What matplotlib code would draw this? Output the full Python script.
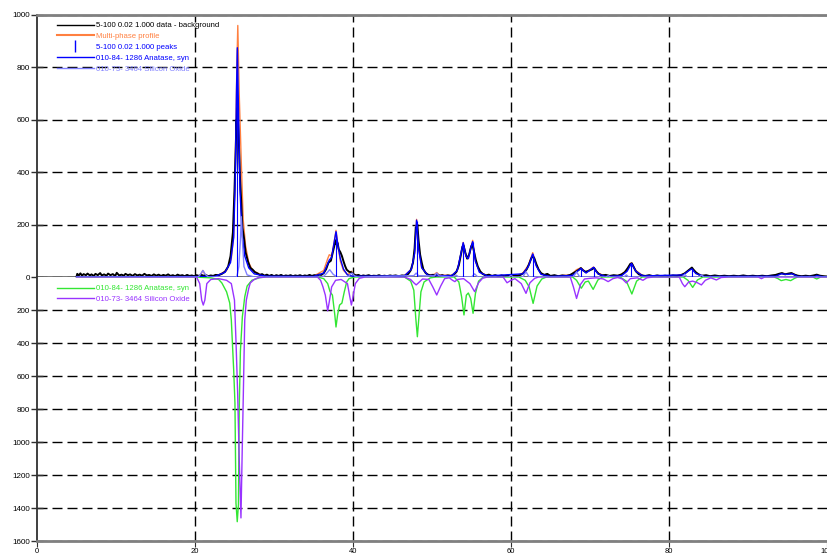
import matplotlib
matplotlib.use('Agg')
import matplotlib.pyplot as plt
from matplotlib.lines import Line2D

plt.rcParams['font.family'] = ['Liberation Sans', 'DejaVu Sans']
plt.rcParams['lines.scale_dashes'] = False

# measured data minus background (black, noisy)
data_x = [5.0,5.1,5.3,5.5,5.7,5.9,6.2,6.4,6.7,6.9,7.2,7.4,7.7,8.0,8.2,8.5,8.8,9.0,9.3,9.6,9.9,10.1,10.4,10.7,11.0,11.2,11.5,11.8,12.1,12.4,12.7,13.0,13.3,13.6,13.9,14.2,14.5,14.8,15.1,15.4,15.7,16.0,16.3,16.6,16.9,17.2,17.5,17.8,18.1,18.4,18.7,19.0,19.3,19.6,19.9,20.2,20.5,20.8,21.1,21.4,21.7,22.0,22.3,22.6,23.0,23.4,23.8,24.2,24.5,24.8,25.0,25.15,25.25,25.3,25.35,25.45,25.55,25.7,25.85,26.0,26.2,26.4,26.7,27.0,27.3,27.6,27.9,28.2,28.5,
          28.8,29.1,29.4,29.7,30.0,30.3,30.6,30.9,31.2,31.5,31.8,32.1,32.4,32.7,33.0,33.3,33.6,33.9,34.2,34.5,34.8,35.1,35.4,35.7,36.0,36.3,36.6,36.9,37.2,37.45,37.65,37.8,37.9,38.05,38.2,38.4,38.6,38.8,39.0,39.2,39.5,39.8,40.1,40.4,40.7,41.0,41.3,41.6,42.0,42.3,42.6,43.0,43.3,43.6,44.0,44.3,44.7,45.0,45.4,45.8,46.2,46.6,47.0,47.3,47.6,47.8,47.95,48.05,48.15,48.3,48.5,48.7,48.9,49.2,49.5,49.8,50.1,50.4,50.7,51.0,51.3,51.6,52.0,52.4,52.8,53.1,53.4,53.65,53.85,54.0,54.2,54.45,54.7,54.95,55.1,55.3,55.55,55.8,56.1,56.4,56.8,57.2,57.6,58.0,58.4,58.8,59.2,59.6,60.0,60.4,60.8,61.2,61.6,62.0,62.3,62.55,62.75,62.95,63.2,63.5,63.8,64.2,64.6,65.0,65.5,66.0,66.5,67.0,67.5,67.9,68.3,68.6,68.85,69.1,69.4,69.7,70.0,70.3,70.5,70.8,71.1,71.5,72.0,72.5,73.0,73.5,74.0,74.4,74.8,75.1,75.3,75.5,75.8,76.2,76.6,77.0,77.5,78.0,78.5,79.0,79.5,80.0,80.5,81.0,81.5,82.0,82.4,82.7,82.9,83.1,83.4,83.8,84.2,84.7,85.2,85.8,86.4,87.0,87.6,88.2,88.8,89.4,90.0,90.6,91.2,91.8,92.4,93.0,93.5,93.9,94.3,94.7,95.1,95.5,95.9,96.3,96.8,97.3,97.8,98.3,98.7,99.1,99.6,100.0]
data_y = [0,12,6,14,5,11,7,13,6,10,4,12,7,15,6,10,5,13,7,11,4,16,6,9,5,12,7,10,4,11,6,9,5,12,6,8,4,10,5,9,4,8,5,10,4,7,3,9,5,7,3,8,4,6,3,7,4,8,5,7,3,6,4,8,7,12,20,40,80,170,330,480,600,560,645,590,520,380,290,190,150,95,60,35,28,18,14,8,11,
          5,9,4,8,3,7,4,8,3,6,4,7,3,6,4,7,3,6,4,8,4,7,5,9,8,15,30,55,62,95,120,140,125,130,105,95,80,60,42,28,20,18,10,6,8,3,6,4,7,3,5,4,7,3,5,3,6,4,6,3,6,5,12,25,55,110,190,180,200,140,85,55,30,15,9,6,8,5,9,4,7,3,6,4,10,20,45,85,115,120,95,70,85,115,125,100,65,40,22,12,6,9,4,7,3,6,3,6,4,7,4,8,15,30,50,70,80,72,50,28,15,8,12,4,7,3,6,4,8,15,22,28,34,26,20,22,26,30,35,22,12,6,8,4,7,5,10,18,35,50,52,40,22,10,6,4,7,3,6,3,5,3,6,4,7,14,24,32,36,28,18,9,5,7,3,6,3,5,3,5,3,6,3,5,3,5,3,6,8,12,15,10,13,15,9,5,3,5,3,6,9,5,3,2]

# multi-phase profile (orange)
profile_x = [5,20.3,20.7,21.0,21.3,21.8,23.0,24.0,24.6,24.9,25.1,25.3,25.42,25.6,25.85,26.1,26.4,26.8,27.3,28.5,30,35,36.3,36.8,37.0,37.3,37.6,37.85,38.1,38.4,38.8,39.3,39.5,39.8,40.1,41,46.5,47.4,47.8,48.05,48.3,48.7,49.5,50.3,50.6,50.9,52.5,53.2,53.7,53.95,54.3,54.6,54.9,55.15,55.5,56,57,60.5,61.5,62.2,62.75,63.2,63.8,65,67.6,68.3,68.85,69.5,70.45,71.0,72,73.8,74.6,75.25,75.8,76.7,80,81.8,82.6,82.9,83.4,84.5,93.5,94.2,95.0,95.6,96.3,98.3,98.7,99.2,100]
profile_y = [0,0,8,25,8,2,8,25,70,160,420,800,960,700,450,220,120,55,25,6,2,3,25,70,85,80,130,178,120,60,25,10,12,22,10,3,5,30,90,220,110,35,8,10,17,8,6,25,90,132,80,70,110,140,60,20,5,3,15,45,93,45,12,3,8,28,35,18,38,15,3,6,25,55,25,5,2,10,28,33,15,3,4,14,12,14,3,3,8,3,0]

# anatase contribution (blue)
anatase_x = [5,22.5,23.8,24.5,24.9,25.1,25.25,25.36,25.5,25.7,25.95,26.3,26.8,27.5,29,35,36.3,36.8,37.0,37.3,37.6,37.85,38.1,38.4,38.8,39.3,40,46.5,47.4,47.8,48.05,48.3,48.7,49.5,52.5,53.2,53.7,53.95,54.3,54.6,54.9,55.15,55.5,56,57,61.5,62.2,62.75,63.2,63.8,65,67.8,68.4,68.85,69.5,70.45,71.0,72,74,74.7,75.25,75.8,76.7,81.8,82.6,82.9,83.4,84.5,93.5,94.2,95.0,95.6,96.3,98.5,98.7,99.2,100]
anatase_y = [0,2,18,55,150,380,700,875,650,330,170,80,35,12,3,2,15,50,65,75,130,173,120,70,30,8,3,4,30,90,217,110,35,6,5,25,95,131,80,70,110,135,60,18,4,12,40,88,42,10,2,6,22,33,15,37,12,2,5,22,52,22,4,8,26,31,13,2,3,12,10,12,2,2,6,2,0]

# silicon oxide contribution (light blue)
silica_x = [5,20.4,20.7,21.0,21.3,21.7,25.3,25.55,25.75,25.87,26.0,26.2,26.6,27.5,36.2,36.6,37.05,37.5,38.0,39.4,39.7,39.9,40.2,40.6,47.7,48.0,48.3,50.3,50.6,50.9,52.6,53.0,53.4,55.0,55.4,55.8,59.7,60.0,60.3,61.5,61.9,62.3,67.9,68.3,68.7,72.0,72.3,72.6,74.3,74.6,74.9,81.7,82.0,82.3,83.8,84.1,84.4,100]
silica_y = [0,0,10,25,10,0,0,40,140,230,140,40,8,0,0,12,28,10,0,0,12,15,4,0,5,15,5,4,15,4,0,8,0,0,12,0,0,6,0,0,20,0,0,20,0,0,5,0,0,8,0,0,10,0,0,8,0,0]

# peak markers
peak_pos = [25.36, 37.85, 48.05, 53.95, 55.15, 62.75, 68.85, 70.45, 75.25, 82.9]
peak_hgt = [870, 170, 215, 130, 135, 88, 33, 37, 52, 31]

# reference patterns drawn downward
ref_anatase_x = [5,20,22.0,23.0,23.4,24.0,24.4,24.6,24.9,25.06,25.19,25.35,25.5,25.6,25.75,26.0,26.3,26.6,27.2,28.2,29,35.5,36.3,36.8,37.1,37.4,37.7,37.85,38.05,38.3,38.6,38.9,39.2,39.5,40.2,46.5,47.3,47.7,47.95,48.15,48.35,48.6,49.0,49.8,50.5,52.8,53.4,53.75,54.05,54.35,54.6,54.9,55.2,55.5,55.9,56.5,61.0,61.8,62.3,62.8,63.3,63.9,64.5,67.8,68.3,68.9,69.4,69.8,70.4,71.0,71.6,73.8,74.6,75.3,75.9,76.6,81.8,82.4,83.0,83.6,84.3,93.3,93.8,94.2,94.8,95.4,95.9,96.3,98.2,98.7,99.2,100]
ref_anatase_y = [0,0,5,15,36,90,158,260,564,764,1370,1483,1380,800,450,240,120,55,20,4,0,0,10,40,89,110,230,303,230,170,158,90,30,10,0,0,25,80,250,362,240,90,30,5,0,0,30,120,230,110,97,130,220,100,25,0,0,20,60,160,55,12,0,0,20,68,30,25,75,18,0,0,25,103,25,0,0,20,63,18,0,0,10,22,15,22,8,0,0,12,0,0]

ref_silica_x = [5,20.2,20.6,20.85,21.05,21.25,21.5,22.0,23.0,24.0,24.6,25.0,25.2,25.4,25.6,25.82,26.0,26.1,26.3,26.5,26.8,27.0,27.5,28,29,35.5,35.9,36.2,36.5,36.8,37.0,37.3,37.8,38.5,39.3,39.6,39.8,40.0,40.3,40.8,41.5,46.5,47.3,47.7,48.0,48.3,48.8,49.6,50.1,50.6,51.1,51.6,52.2,52.6,52.9,53.2,54.0,54.8,55.4,55.9,56.4,57,59.0,59.5,60.0,60.5,61.3,61.9,62.4,63.0,63.5,67.5,67.9,68.3,68.8,69.3,70.0,70.8,71.7,72.3,72.9,73.5,74.1,74.6,75.1,76.0,76.7,77.2,78,81.3,81.7,82.0,82.5,83.0,83.6,84.1,84.6,85.3,86.0,86.6,87.5,91.3,91.7,92.1,100]
ref_silica_y = [0,0,40,140,170,140,40,15,10,20,40,140,400,700,1100,1460,1000,760,260,140,70,36,15,4,0,0,20,60,110,205,150,60,20,15,40,120,170,120,40,8,0,0,15,35,48,35,12,15,60,109,55,10,5,20,28,15,10,40,89,35,8,0,0,35,20,10,40,99,35,8,0,0,60,130,45,12,8,5,12,28,10,3,12,36,10,5,20,5,0,0,40,59,30,25,35,48,20,5,18,3,0,0,10,0,0]

grid_x = [20, 40, 60, 80]

c_orange = '#ff8040'
c_blue = '#0000ff'
c_light = '#8080ff'
c_green = '#33e633'
c_purple = '#9933ff'

fig = plt.figure(figsize=(8.27, 5.55), dpi=100)
ax = fig.add_axes([0.0447, 0.5009, 0.9553, 0.4721])
ax2 = fig.add_axes([0.0447, 0.0252, 0.9553, 0.4757])

# upper part: fit
ax.plot(data_x, data_y, color='black', lw=1.4, zorder=3)
ax.plot(profile_x, profile_y, color=c_orange, lw=1.0, zorder=2)
ax.plot(anatase_x, anatase_y, color=c_blue, lw=1.0, zorder=4)
ax.plot(silica_x, silica_y, color=c_light, lw=1.0, zorder=4)
ax.vlines(peak_pos, 0, peak_hgt, color=c_blue, lw=0.8, zorder=5)

# lower part: phase patterns
ax2.plot(ref_anatase_x, ref_anatase_y, color=c_green, lw=1.0)
ax2.plot(ref_silica_x, ref_silica_y, color=c_purple, lw=1.0)

ax.set_xlim(0, 100)
ax.set_ylim(0, 1000)
ax2.set_xlim(0, 100)
ax2.set_ylim(1600, 0)

ax.set_yticks([0, 200, 400, 600, 800, 1000])
ax2.set_yticks([200, 400, 600, 800, 1000, 1200, 1400, 1600])
ax.set_xticks([])
ax2.set_xticks([0, 20, 40, 60, 80, 100])

dash = (0, (7.2, 3.6))
for a in (ax, ax2):
    a.tick_params(axis='y', direction='inout', length=8, width=1, color='#303030',
                  labelsize=5.8, pad=1)
    a.grid(True, axis='y', color='black', lw=1.0, linestyle=dash)
    for gx in grid_x:
        a.axvline(gx, color='black', lw=1.0, linestyle=dash, zorder=0.5)
    a.spines['right'].set_visible(False)
    a.spines['left'].set_color('#303030')
    a.spines['left'].set_linewidth(1.3)
ax2.tick_params(axis='x', direction='out', length=4, color='#303030', labelsize=5.5, pad=1)

ax.spines['top'].set_color('#808080')
ax.spines['top'].set_linewidth(2)
ax.spines['bottom'].set_color('#505050')
ax.spines['bottom'].set_linewidth(1.8)
ax2.spines['top'].set_visible(False)
ax2.spines['bottom'].set_color('#808080')
ax2.spines['bottom'].set_linewidth(2)

h_top = [Line2D([], [], color='black', lw=1.0),
         Line2D([], [], color=c_orange, lw=1.5),
         Line2D([], [], color=c_blue, marker='|', linestyle='None', markersize=8, markeredgewidth=1),
         Line2D([], [], color=c_blue, lw=1.0),
         Line2D([], [], color=c_light, lw=1.0)]
l_top = ['5-100 0.02 1.000 data - background', 'Multi-phase profile',
         '5-100 0.02 1.000 peaks', '010-84- 1286 Anatase, syn', '010-73- 3464 Silicon Oxide']
ax.legend(h_top, l_top, loc='upper left', bbox_to_anchor=(0.025, 0.974), frameon=False,
          fontsize=5.6, handlelength=4.8, handletextpad=0.2, labelspacing=0.45,
          borderpad=0, borderaxespad=0,
          labelcolor=['black', c_orange, c_blue, c_blue, c_light])

h_bot = [Line2D([], [], color=c_green, lw=1.0), Line2D([], [], color=c_purple, lw=1.0)]
l_bot = ['010-84- 1286 Anatase, syn', '010-73- 3464 Silicon Oxide']
ax2.legend(h_bot, l_bot, loc='upper left', bbox_to_anchor=(0.025, 0.97), frameon=False,
           fontsize=5.6, handlelength=4.8, handletextpad=0.2, labelspacing=0.35,
           borderpad=0, borderaxespad=0, labelcolor=[c_green, c_purple])

fig.savefig('out.png', dpi=100)
